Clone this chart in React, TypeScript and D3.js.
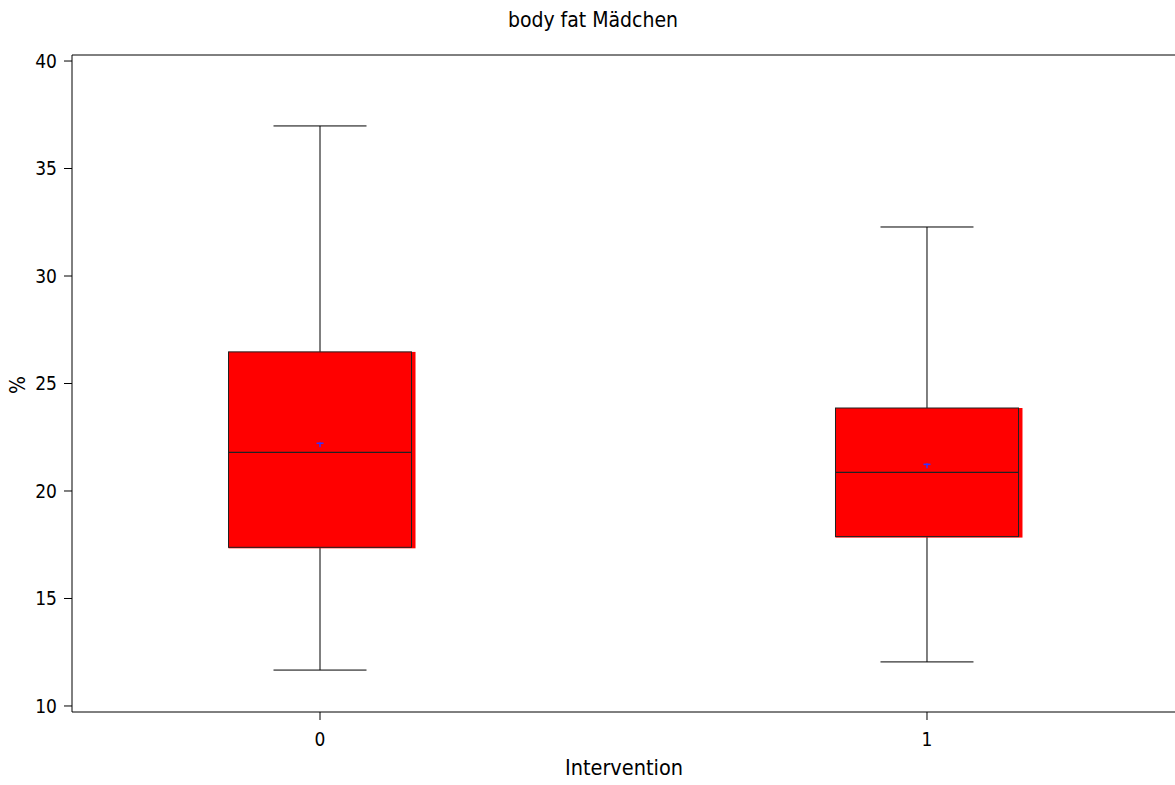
import React from "react";
import * as d3 from "d3";

const categories = ["0", "1"];
const whiskerLow = [11.67, 12.05];
const q1 = [17.38, 17.88];
const median = [21.8, 20.87];
const q3 = [26.47, 23.86];
const whiskerHigh = [36.98, 32.28];
const means = [22.22, 21.24];
const yTicks = [10, 15, 20, 25, 30, 35, 40];

const W = 1175;
const H = 785;
const left = 72;
const right = 1175;
const top = 55;
const bottom = 712;
const font = "'DejaVu Sans Condensed', 'DejaVu Sans', Verdana, sans-serif";

export default function App() {
  const x = d3.scalePoint<string>().domain(categories).range([left, right]).padding(0.4086);
  const y = d3.scaleLinear().domain([9.72, 40.28]).range([bottom, top]);
  const boxHalf = 91.5;
  const capHalf = 46.5;
  return (
    <svg width={W} height={H} style={{ position: "absolute", left: 0, top: 0, background: "#fff" }}>
      <text x={593} y={27} textAnchor="middle" fontFamily={font} fontSize={21} fill="#000">body fat Mädchen</text>
      <line x1={left} y1={top} x2={right} y2={top} stroke="#000" strokeWidth={1} />
      <line x1={left} y1={top} x2={left} y2={bottom} stroke="#000" strokeWidth={1} />
      <line x1={left} y1={bottom} x2={right} y2={bottom} stroke="#000" strokeWidth={1} />
      {yTicks.map((t) => (
        <g key={t}>
          <line x1={left - 8} x2={left} y1={y(t)} y2={y(t)} stroke="#000" />
          <text x={left - 15} y={y(t)} dy="0.36em" textAnchor="end" fontFamily={font} fontSize={19} fill="#000">{t}</text>
        </g>
      ))}
      {categories.map((c) => (
        <g key={c}>
          <line x1={x(c)} x2={x(c)} y1={bottom} y2={bottom + 8} stroke="#000" />
          <text x={x(c)} y={bottom + 27} dy="0.36em" textAnchor="middle" fontFamily={font} fontSize={19} fill="#000">{c}</text>
        </g>
      ))}
      <text x={624} y={775} textAnchor="middle" fontFamily={font} fontSize={21.5} fill="#000">Intervention</text>
      <text transform={`translate(25,385) rotate(-90)`} textAnchor="middle" fontFamily={font} fontSize={21} fill="#000">%</text>
      {categories.map((c, i) => {
        const cx = x(c)!;
        return (
          <g key={"b" + c}>
            <line x1={cx} x2={cx} y1={y(whiskerHigh[i])} y2={y(q3[i])} stroke="#000" />
            <line x1={cx} x2={cx} y1={y(q1[i])} y2={y(whiskerLow[i])} stroke="#000" />
            <line x1={cx - capHalf} x2={cx + capHalf} y1={y(whiskerHigh[i])} y2={y(whiskerHigh[i])} stroke="#000" />
            <line x1={cx - capHalf} x2={cx + capHalf} y1={y(whiskerLow[i])} y2={y(whiskerLow[i])} stroke="#000" />
            <rect x={cx - boxHalf} y={y(q3[i])} width={boxHalf * 2 + 4} height={y(q1[i]) - y(q3[i]) + 1} fill="#ff0000" />
            <rect x={cx - boxHalf} y={y(q3[i])} width={boxHalf * 2} height={y(q1[i]) - y(q3[i])} fill="#ff0000" stroke="#222" strokeWidth={1} />
            <line x1={cx - boxHalf} x2={cx + boxHalf} y1={y(median[i])} y2={y(median[i])} stroke="#222" strokeWidth={1.2} />
            <line x1={cx - 3.5} x2={cx + 3.5} y1={y(means[i])} y2={y(means[i])} stroke="#3333ff" strokeWidth={1.5} />
            <line x1={cx} x2={cx} y1={y(means[i]) - 1} y2={y(means[i]) + 4} stroke="#3333ff" strokeWidth={1.5} />
          </g>
        );
      })}
    </svg>
  );
}
